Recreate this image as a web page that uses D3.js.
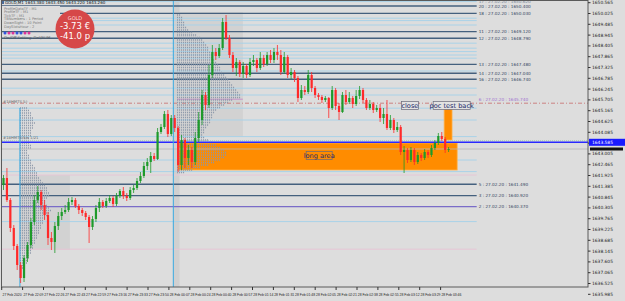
<!DOCTYPE html>
<html>
<head>
<meta charset="utf-8">
<script src="https://cdn.jsdelivr.net/npm/d3@7"></script>
<style>
body { margin: 0; background: #dddddd; }
svg { display: block; }
text { font-family: "DejaVu Sans", sans-serif; }
text.tlabel { font-family: "Liberation Sans Narrow", "Liberation Sans", sans-serif; }
</style>
</head>
<body>
<svg id="chart" width="625" height="301"></svg>
<script>
// ---- data ----
var firstOpen = 1641.45;
var closes = [1641.80,1640.70,1639.30,1638.40,1637.45,1636.80,1637.80,1638.45,1639.60,1640.70,
  1641.10,1640.45,1639.95,1638.80,1638.60,1639.40,1639.90,1640.10,1640.20,1640.60,
  1640.70,1640.40,1640.20,1640.05,1639.85,1639.35,1639.75,1640.30,1640.60,1640.40,
  1640.65,1640.80,1640.50,1640.90,1641.15,1640.90,1640.80,1641.20,1641.30,1641.65,
  1641.90,1642.40,1642.60,1642.90,1642.75,1644.10,1644.35,1645.00,1644.00,1644.80,
  1644.30,1642.45,1643.70,1642.80,1643.20,1642.60,1643.80,1644.70,1645.95,1645.45,
  1646.95,1648.10,1647.90,1648.30,1649.60,1648.80,1647.95,1647.30,1647.60,1647.00,
  1647.40,1646.95,1647.60,1647.70,1647.30,1647.80,1647.50,1647.95,1647.70,1648.10,
  1647.95,1647.10,1647.85,1646.95,1647.10,1646.80,1645.80,1646.20,1646.10,1646.95,
  1646.30,1645.95,1645.85,1645.70,1645.80,1645.30,1646.20,1645.40,1645.10,1645.95,
  1645.60,1645.80,1645.50,1645.90,1646.20,1645.70,1645.30,1645.50,1645.20,1645.30,
  1644.80,1645.00,1644.30,1644.70,1644.20,1644.35,1643.10,1643.20,1642.70,1643.20,
  1642.60,1642.95,1642.80,1643.10,1642.95,1643.30,1643.55,1643.90,1643.75,1643.20,
  1643.25];
var highs = [1641.95,1642.30,1640.80,1639.45,1638.50,1637.60,1637.95,1638.60,1639.80,1640.95,
  1641.40,1641.20,1640.70,1640.10,1639.10,1639.60,1640.10,1640.30,1640.45,1640.80,
  1640.85,1640.80,1640.50,1640.30,1640.15,1639.95,1639.90,1640.45,1640.80,1640.70,
  1640.80,1640.95,1640.90,1641.05,1641.25,1641.35,1641.05,1641.35,1641.45,1641.80,
  1642.10,1642.60,1642.80,1643.10,1643.05,1644.30,1644.50,1645.15,1645.20,1644.95,
  1644.95,1644.40,1643.95,1643.80,1643.45,1643.35,1644.10,1645.10,1646.20,1646.10,
  1647.45,1648.45,1648.30,1648.50,1649.80,1649.95,1648.95,1648.10,1647.80,1647.70,
  1647.60,1647.50,1647.80,1647.95,1647.80,1648.10,1647.95,1648.10,1648.20,1648.30,
  1648.45,1648.20,1648.10,1647.95,1647.30,1647.20,1646.90,1646.45,1646.40,1647.20,
  1647.10,1646.40,1646.05,1645.95,1645.90,1645.85,1646.40,1646.30,1645.55,1646.10,
  1646.20,1646.10,1645.90,1646.20,1646.40,1646.30,1645.80,1645.70,1645.60,1645.45,
  1645.50,1645.30,1645.70,1644.95,1644.80,1644.60,1644.45,1643.40,1643.30,1643.35,
  1643.30,1643.10,1643.05,1643.25,1643.20,1643.45,1643.70,1644.05,1644.10,1643.85,
  1643.35];
var lows = [1641.20,1640.60,1639.10,1638.20,1637.20,1636.55,1636.60,1637.60,1638.30,1639.45,
  1640.55,1640.20,1639.70,1638.45,1638.20,1638.05,1639.20,1639.70,1640.00,1640.10,
  1640.45,1640.30,1640.00,1639.90,1639.70,1638.55,1639.20,1639.60,1640.10,1640.30,
  1640.30,1640.55,1640.35,1640.40,1640.80,1640.75,1640.65,1640.70,1641.05,1641.20,
  1641.55,1641.80,1642.20,1642.05,1642.65,1642.70,1644.00,1644.25,1643.85,1643.90,
  1644.10,1642.10,1642.20,1642.30,1642.45,1642.30,1642.45,1643.60,1644.45,1645.20,
  1645.30,1646.80,1647.70,1647.80,1648.20,1648.70,1647.80,1647.10,1646.90,1646.85,
  1646.80,1646.80,1646.85,1647.40,1647.10,1647.20,1647.35,1647.40,1647.55,1647.55,
  1647.70,1646.95,1647.00,1646.80,1646.75,1646.60,1645.60,1645.70,1645.95,1646.00,
  1646.10,1645.80,1645.70,1645.55,1645.60,1644.80,1645.20,1645.20,1644.70,1645.05,
  1645.45,1645.50,1645.30,1645.40,1645.75,1645.55,1645.20,1645.20,1645.05,1645.10,
  1644.60,1644.50,1644.20,1644.20,1644.05,1644.10,1642.95,1642.05,1642.55,1642.60,
  1642.45,1642.50,1642.65,1642.70,1642.80,1642.85,1643.20,1643.45,1643.65,1643.05,
  1643.10];

// price scale tick labels (right axis)
var priceTicks = [1650.565,1650.025,1649.485,1648.945,1648.405,1647.865,1647.325,1646.785,1646.245,1645.705,
  1645.165,1644.625,1644.085,1643.545,1643.005,1642.465,1641.925,1641.385,1640.845,1640.305,
  1639.765,1639.225,1638.685,1638.145,1637.605,1637.065,1636.525,1635.985];

// time labels, one every 6 bars
var timeLabels = ["27 Feb 2020","27 Feb 22:09","27 Feb 22:26","27 Feb 22:43","27 Feb 22:59","27 Feb 23:16",
  "27 Feb 23:33","27 Feb 23:50","28 Feb 00:07","28 Feb 00:24","28 Feb 00:40","28 Feb 00:57",
  "28 Feb 01:14","28 Feb 01:31","28 Feb 01:48","28 Feb 02:05","28 Feb 02:21","28 Feb 02:38",
  "28 Feb 02:55","28 Feb 03:12","28 Feb 03:29","28 Feb 03:46"];

// horizontal levels
var darkLevels = [1650.40,1650.03,1649.12,1648.79,1647.48,1647.04,1646.74,1641.49,1640.92];
var darkLevelIds = [20,18,11,12,13,14,16,5,3];
var purpleLevel = 1640.37;
var lightLevels = [1650.62,1649.79,1649.67,1649.45,1648.54,1648.29,1648.12,1647.95,1647.79,1647.15,
  1646.29,1645.95,1645.29,1644.70,1643.87,1642.70,1642.12,1639.62];
var pinkLevels = [1641.95,1638.24];
var dashLevel = 1645.54;
var askPrice = 1643.585;
var bidPrice = 1643.25;

// market profiles: TPO count per 0.125 row, from top row down
var leftProfileTop = 1645.30;
var leftProfile = [4,5,6,6,7,7,8,7,7,6,6,6,5,5,5,6,6,
  4,4,5,5,6,6,7,8,8,9,
  9,10,11,12,13,14,14,15,15,14,13,13,14,15,16,15,14,13,12,12,11,11,10,10,9,9,8,8,7,7,
  6,6,5,5,4,4,3,3];
var bigProfileTop = 1649.95;
var bigProfile = [2,3,3,4,4,5,
  6,8,10,12,13,14,15,16,16,17,18,18,
  19,20,21,22,22,23,24,25,26,27,28,29,30,31,32,32,
  28,26,24,22,20,19,18,18,17,17,16,15,14,14,
  13,14,16,18,20,22,24,25,25,24,22,19,16,12,8,4];

var infoLines = ["ProfileDataTF : M1","ProfileTF : M1","TickTF : M1","TBNumbers : 1 Period","DownSight : 10 Point","DaySlotsHour : 2"];
var dotColors = ["#3355dd","#dd3399","#dd3399","#3355dd","#3355dd","#dd3399","#dd3399"];

// ---- layout ----
var G_WIDTH = 625, G_HEIGHT = 301;
var PLOT_R = 588, PLOT_B = 287;

var svg = d3.select("#chart");

var x = d3.scaleLinear().domain([0, 130]).range([3.5, 448.6]); // bar index -> px
var y = d3.scaleLinear().domain([1636.35, 1650.70]).range([PLOT_B, 0]); // price -> px

// build candles
var candles = closes.map(function(c, i) {
    return { i: i, o: i == 0 ? firstOpen : closes[i-1], c: c, h: highs[i], l: lows[i] };
});

svg.append("rect").attr("width", G_WIDTH).attr("height", G_HEIGHT).attr("fill", "#dddddd");

// value area boxes
var boxes = [
    { i0: 4.8, i1: 19.4, p0: 1641.95, p1: 1638.20 },
    { i0: 50.7, i1: 69.9, p0: 1650.10, p1: 1643.85 }
];
svg.selectAll(".vabox").data(boxes).enter().append("rect")
    .attr("x", function(d) { return x(d.i0); })
    .attr("y", function(d) { return y(d.p0); })
    .attr("width", function(d) { return x(d.i1) - x(d.i0); })
    .attr("height", function(d) { return y(d.p1) - y(d.p0); })
    .attr("fill", "#d2d2d2");

// grey band next to the session line
svg.append("rect").attr("x", x(49.7)).attr("y", 0).attr("width", x(51.4) - x(49.7)).attr("height", PLOT_B)
    .attr("fill", "#d0d0d0");

var LVL_END = x(138.2);

// horizontal level lines
svg.selectAll(".light").data(lightLevels).enter().append("line")
    .attr("x1", 2).attr("x2", LVL_END)
    .attr("y1", function(d) { return y(d); }).attr("y2", function(d) { return y(d); })
    .attr("stroke", "#a9d2e8").attr("stroke-width", 1);

svg.selectAll(".pink").data(pinkLevels).enter().append("line")
    .attr("x1", 2).attr("x2", LVL_END)
    .attr("y1", function(d) { return y(d); }).attr("y2", function(d) { return y(d); })
    .attr("stroke", "#e6c6d6").attr("stroke-width", 1);

svg.selectAll(".dark").data(darkLevels).enter().append("line")
    .attr("x1", 2).attr("x2", LVL_END)
    .attr("y1", function(d) { return y(d); }).attr("y2", function(d) { return y(d); })
    .attr("stroke", "#44607e").attr("stroke-width", 1.4);

svg.append("line").attr("x1", 2).attr("x2", LVL_END)
    .attr("y1", y(purpleLevel)).attr("y2", y(purpleLevel))
    .attr("stroke", "#7a6cc8").attr("stroke-width", 1.4);

// short purple poc line in the big profile
svg.append("line").attr("x1", x(50.7)).attr("x2", x(69.9))
    .attr("y1", y(1645.74)).attr("y2", y(1645.74))
    .attr("stroke", "#c890c8").attr("stroke-width", 1);

// dash-dot level, runs to the price scale
svg.append("line").attr("x1", 2).attr("x2", PLOT_R)
    .attr("y1", y(dashLevel)).attr("y2", y(dashLevel))
    .attr("stroke", "#c86a6a").attr("stroke-width", 0.8)
    .attr("stroke-dasharray", "4,2,1,2");

// orange zones
var zones = [
    { i0: 51, i1: 132.5, p0: 1643.55, p1: 1642.20 },
    { i0: 128.7, i1: 131, p0: 1645.35, p1: 1643.70 }
];
svg.selectAll(".zone").data(zones).enter().append("rect")
    .attr("x", function(d) { return x(d.i0); })
    .attr("y", function(d) { return y(d.p0); })
    .attr("width", function(d) { return x(d.i1) - x(d.i0); })
    .attr("height", function(d) { return y(d.p1) - y(d.p0); })
    .attr("fill", "#ff8c00").attr("stroke", "#ffb24a").attr("stroke-width", 0.8);

// market profiles drawn as dotted rows
var tpoW = d3.scaleLinear().domain([0, 1]).range([0, 2]);
function drawProfile(rows, topPrice, startIdx) {
    svg.append("g").selectAll("line").data(rows).enter().append("line")
        .attr("x1", x(startIdx))
        .attr("x2", function(d) { return x(startIdx) + tpoW(d); })
        .attr("y1", function(d, i) { return y(topPrice - i * 0.125); })
        .attr("y2", function(d, i) { return y(topPrice - i * 0.125); })
        .attr("stroke", "#8a96a8").attr("stroke-width", 1.3)
        .attr("stroke-dasharray", "1,1");
}
drawProfile(leftProfile, leftProfileTop, 4.8);
drawProfile(bigProfile, bigProfileTop, 50.7);

// bid line (grey) and ask line (blue)
svg.append("line").attr("x1", 2).attr("x2", PLOT_R).attr("y1", y(bidPrice)).attr("y2", y(bidPrice))
    .attr("stroke", "#b8b8b8").attr("stroke-width", 0.8);
svg.append("line").attr("x1", 2).attr("x2", PLOT_R).attr("y1", y(askPrice) - 1.6).attr("y2", y(askPrice) - 1.6)
    .attr("stroke", "#9ccfa0").attr("stroke-width", 0.8).attr("stroke-dasharray", "1,1");
svg.append("line").attr("x1", 2).attr("x2", PLOT_R).attr("y1", y(askPrice)).attr("y2", y(askPrice))
    .attr("stroke", "#2a2aff").attr("stroke-width", 1.6);

// session lines
svg.append("line").attr("x1", x(4.8)).attr("x2", x(4.8)).attr("y1", y(1645.30)).attr("y2", PLOT_B)
    .attr("stroke", "#38a8e0").attr("stroke-width", 1);
svg.append("line").attr("x1", x(49.6)).attr("x2", x(49.6)).attr("y1", 0).attr("y2", PLOT_B)
    .attr("stroke", "#38a8e0").attr("stroke-width", 1);

// candles
var cg = svg.append("g");
cg.selectAll(".wick").data(candles).enter().append("line")
    .attr("x1", function(d) { return x(d.i); }).attr("x2", function(d) { return x(d.i); })
    .attr("y1", function(d) { return y(d.h); }).attr("y2", function(d) { return y(d.l); })
    .attr("stroke", function(d) { return d.c >= d.o ? "#1e9a2a" : "#ff2a2a"; })
    .attr("stroke-width", 0.8);
cg.selectAll(".body").data(candles).enter().append("rect")
    .attr("x", function(d) { return x(d.i) - 1.1; })
    .attr("width", 2.2)
    .attr("y", function(d) { return y(Math.max(d.o, d.c)); })
    .attr("height", function(d) { return Math.max(0.8, Math.abs(y(d.o) - y(d.c))); })
    .attr("fill", function(d) { return d.c >= d.o ? "#1e9a2a" : "#ff2a2a"; });

// level labels on the right of the lines
var lvlLabels = darkLevels.map(function(d, i) { return { id: darkLevelIds[i], p: d, col: "#34465e" }; });
lvlLabels.push({ id: 17, p: lightLevels[0], col: "#7c8a9c" });
lvlLabels.push({ id: 2, p: purpleLevel, col: "#34465e" });
lvlLabels.push({ id: 6, p: dashLevel + 0.2, col: "#a070d0" });
svg.selectAll(".lvltext").data(lvlLabels).enter().append("text")
    .attr("x", LVL_END + 2).attr("y", function(d) { return y(d.p) + 1.6; })
    .attr("font-size", 4.2).attr("fill", function(d) { return d.col; })
    .text(function(d) { return d.id + " : 27.02.20 : " + d.p.toFixed(3); });

// boxed annotations
var notes = [
    { t: "long area", i: 92.2, p: 1642.93, w: 26, bg: "#ff8c00" },
    { t: "close", i: 118.7, p: 1645.43, w: 17, bg: "#e2e2e2" },
    { t: "poc test back", i: 130.9, p: 1645.43, w: 37, bg: "#e2e2e2" }
];
var ng = svg.selectAll(".note").data(notes).enter().append("g");
ng.append("rect")
    .attr("x", function(d) { return x(d.i) - d.w / 2; })
    .attr("y", function(d) { return y(d.p) - 4; })
    .attr("width", function(d) { return d.w; }).attr("height", 8)
    .attr("fill", function(d) { return d.bg; })
    .attr("stroke", "#6a6a7a").attr("stroke-width", 0.7);
ng.append("text")
    .attr("x", function(d) { return x(d.i); }).attr("y", function(d) { return y(d.p) + 2.4; })
    .attr("text-anchor", "middle").attr("font-size", 6.6).attr("fill", "#1c2a6a")
    .text(function(d) { return d.t; });

// small left labels
svg.append("text").attr("x", 3).attr("y", y(dashLevel) - 0.5).attr("font-size", 3.8).attr("fill", "#6a6a6a")
    .text("#18HMTS 5/-");
svg.append("text").attr("x", 3).attr("y", y(askPrice) - 3).attr("font-size", 3.8).attr("fill", "#6a6a6a")
    .text("#18HMTS 5/s 1/21");

// info panel
svg.append("rect").attr("x", 2).attr("y", 6).attr("width", 58).attr("height", 24).attr("fill", "#dcdcdc");
svg.selectAll(".info").data(infoLines).enter().append("text")
    .attr("x", 4).attr("y", function(d, i) { return 9.5 + i * 3.6; })
    .attr("font-size", 3.6).attr("fill", "#7a7a7a")
    .text(function(d) { return d; });
svg.selectAll(".dot").data(dotColors).enter().append("circle")
    .attr("cx", function(d, i) { return 5 + i * 4; }).attr("cy", 33)
    .attr("r", 1.5).attr("fill", function(d) { return d; });
svg.append("text").attr("x", 4).attr("y", 39).attr("font-size", 3.8).attr("fill", "#555")
    .text("On/Off Setting: Del(NUM...");

// profit badge
svg.append("circle").attr("cx", 75).attr("cy", 29).attr("r", 19.5).attr("fill", "#d64848");
svg.append("text").attr("x", 75).attr("y", 20).attr("text-anchor", "middle").attr("font-size", 5)
    .attr("fill", "#ffdede").text("GOLD");
svg.append("text").attr("x", 75).attr("y", 28.5).attr("text-anchor", "middle").attr("font-size", 8.5)
    .attr("fill", "#ffffff").text("-3.73 €");
svg.append("text").attr("x", 75).attr("y", 39).attr("text-anchor", "middle").attr("font-size", 8.5)
    .attr("fill", "#ffffff").text("-41.0 p");

// title row
svg.append("rect").attr("x", 1).attr("y", 1).attr("width", 3).attr("height", 3).attr("fill", "#4a6a9a");
svg.append("text").attr("x", 5).attr("y", 4.3).attr("font-size", 4).attr("fill", "#111")
    .text("GOLD,M1  1643.380 1643.450 1643.220 1643.260");

// frame
svg.append("rect").attr("x", 1.5).attr("y", 0.5).attr("width", PLOT_R - 1.5).attr("height", PLOT_B - 0.5)
    .attr("fill", "none").attr("stroke", "#5a5a5a").attr("stroke-width", 1);

// price axis
svg.selectAll(".ptick").data(priceTicks).enter().append("line")
    .attr("x1", PLOT_R).attr("x2", PLOT_R + 2.5)
    .attr("y1", function(d) { return y(d); }).attr("y2", function(d) { return y(d); })
    .attr("stroke", "#333");
svg.selectAll(".plabel").data(priceTicks).enter().append("text")
    .attr("x", PLOT_R + 4).attr("y", function(d) { return y(d) + 1.5; })
    .attr("font-size", 4.4).attr("fill", "#222")
    .text(function(d) { return d.toFixed(3); });

// current price box
svg.append("rect").attr("x", PLOT_R + 1).attr("y", y(askPrice) - 3.5).attr("width", 36).attr("height", 7)
    .attr("fill", "#1a1aff");
svg.append("text").attr("x", PLOT_R + 4).attr("y", y(askPrice) + 1.6).attr("font-size", 4.4)
    .attr("fill", "#fff").text(askPrice.toFixed(3));
svg.append("rect").attr("x", PLOT_R + 2).attr("y", y(bidPrice) - 1.5).attr("width", 33).attr("height", 3)
    .attr("fill", "#111");

// time axis
var timeX = d3.scaleLinear().domain([0, timeLabels.length - 1]).range([1.7, 440.6]);
svg.selectAll(".ttick").data(timeLabels).enter().append("line")
    .attr("x1", function(d, k) { return timeX(k); }).attr("x2", function(d, k) { return timeX(k); })
    .attr("y1", PLOT_B).attr("y2", PLOT_B + 3)
    .attr("stroke", "#333");
svg.selectAll(".tlabel").data(timeLabels).enter().append("text")
    .attr("class", "tlabel")
    .attr("x", function(d, k) { return timeX(k) + 0.8; }).attr("y", 296)
    .attr("font-size", 3.4).attr("fill", "#222")
    .text(function(d) { return d; });
</script>
</body>
</html>
